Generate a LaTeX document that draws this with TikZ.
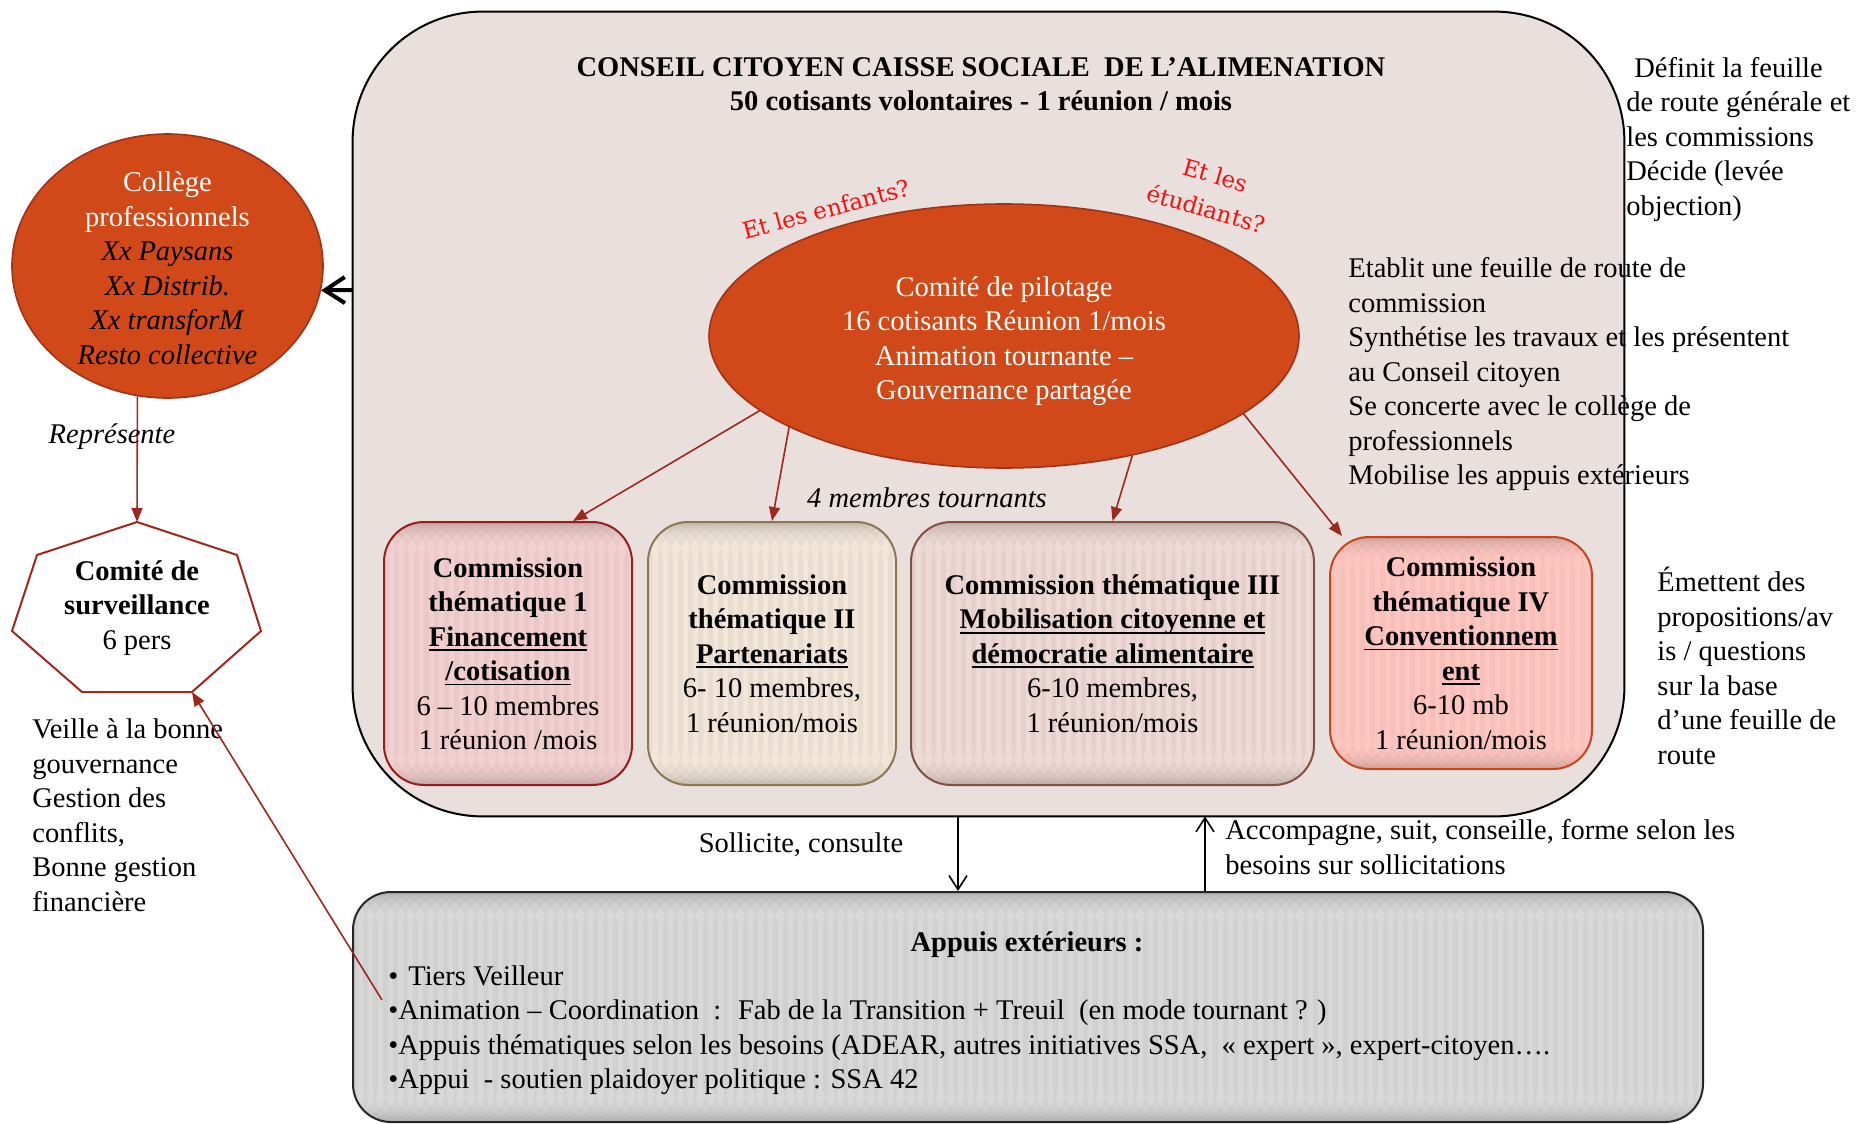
\documentclass[tikz,border=0pt]{standalone}
\usepackage{fontspec}
\setmainfont{Liberation Serif}
\newfontfamily\redfont{DejaVu Serif}
\usetikzlibrary{arrows.meta,shapes.geometric,calc}
\definecolor{boxfill}{RGB}{233,223,220}
\definecolor{orangered}{RGB}{209,73,24}
\definecolor{orangeedge}{RGB}{160,50,25}
\definecolor{darkred}{RGB}{158,40,30}
\definecolor{cone}{RGB}{243,208,208}
\definecolor{coneedge}{RGB}{150,30,28}
\definecolor{ctwo}{RGB}{241,230,216}
\definecolor{ctwoedge}{RGB}{140,118,85}
\definecolor{cthree}{RGB}{238,217,212}
\definecolor{cthreeedge}{RGB}{130,80,65}
\definecolor{cfour}{RGB}{255,198,192}
\definecolor{cfouredge}{RGB}{200,70,30}
\definecolor{grayfill}{RGB}{216,216,216}
\definecolor{redtext}{RGB}{245,15,15}
\newcommand\myul[1]{\setbox0\hbox{\bfseries #1}\rlap{\rule[-2.4pt]{\wd0}{0.8pt}}\box0}
\begin{document}
\begin{tikzpicture}[x=0.5pt,y=-0.5pt,
  txt/.style={font=\fontsize{14.25pt}{17.25pt}\selectfont, inner sep=0pt},
  txtb/.style={font=\fontsize{14.25pt}{17.25pt}\selectfont\bfseries, inner sep=0pt},
  txti/.style={font=\fontsize{14.25pt}{17.25pt}\selectfont\itshape, inner sep=0pt},
  stripes/.style={path picture={\foreach \k in {0,2,...,280}{\fill[black,opacity=0.035] ([xshift=\k*2.5pt]path picture bounding box.south west) rectangle ([xshift=\k*2.5pt+2.5pt]path picture bounding box.north west);}}},
  comm/.style={draw, line width=1pt, rounded corners=20pt, inner sep=0pt, align=center, txt, stripes},
  redarrow/.style={draw=darkred, line width=0.8pt, -{Triangle[length=7pt,width=5.5pt]}},
  thinarrow/.style={draw=black, line width=0.8pt, -{Straight Barb[length=7pt,width=9pt]}},
  redq/.style={font=\redfont\fontsize{11.5pt}{17.5pt}\selectfont, text=redtext, inner sep=0pt, align=center}
]
\useasboundingbox (0,0) rectangle (1859,1124);

% big box (fill)
\node[fill=boxfill, rounded corners=65pt, minimum width=635.5pt, minimum height=402pt, inner sep=0pt] (conseil) at (988.5,414) {};

\node[txtb, align=center] (title) at (981,84) {CONSEIL CITOYEN CAISSE SOCIALE~ DE L’ALIMENATION\\50 cotisants volontaires - 1 réunion / mois};

% right-side texts
\node[txt, align=left, anchor=west] (defin) at (1626,139) {\hspace*{4pt}Définit la feuille\\de route générale et\\les commissions\\Décide (levée\\objection)};
\node[txt, align=left, anchor=west] (etablit) at (1348,374) {Etablit une feuille de route de\\commission\\Synthétise les travaux et les présentent\\au Conseil citoyen\\Se concerte avec le collège de\\professionnels\\Mobilise les appuis extérieurs};
\node[txt, align=left, anchor=west] (emettent) at (1657,666) {Émettent des\\propositions/av\\is / questions\\sur la base\\d’une feuille de\\route};

% big box border on top of texts
\draw[line width=1pt, rounded corners=65pt] (conseil.north west) rectangle (conseil.south east);

% comite de pilotage
\node[ellipse, draw=orangeedge, fill=orangered, line width=0.8pt, minimum width=295pt, minimum height=132pt, inner sep=0pt] (pil) at (1004,336) {};
\node[txt, align=center, text=white] (piltxt) at (1004,341) {Comité de pilotage\\16 cotisants Réunion 1/mois\\Animation tournante –\\Gouvernance partagée};

\node[redq, rotate=15] (enfants) at (826,209) {Et les enfants?};
\node[redq, rotate=-16] (etudiants) at (1211,192) {Et les\\étudiants?};

% commissions
\node[comm, draw=coneedge, fill=cone, minimum width=124pt, minimum height=131.5pt] (c1) at (508,653.5) {\textbf{Commission}\\\textbf{thématique 1}\\\myul{Financement}\\\myul{/cotisation}\\6 – 10 membres\\1 réunion /mois};
\node[comm, draw=ctwoedge, fill=ctwo, minimum width=124pt, minimum height=131.5pt] (c2) at (772,653.5) {\textbf{Commission}\\\textbf{thématique II}\\\myul{Partenariats}\\6- 10 membres,\\1 réunion/mois};
\node[comm, draw=cthreeedge, fill=cthree, minimum width=201.5pt, minimum height=131.5pt] (c3) at (1112.5,653.5) {\textbf{Commission thématique III}\\\myul{Mobilisation citoyenne et}\\\myul{démocratie alimentaire}\\6-10 membres,\\1 réunion/mois};
\node[comm, draw=cfouredge, fill=cfour, rounded corners=19.5pt, minimum width=131pt, minimum height=116pt] (c4) at (1461,653) {\textbf{Commission}\\\textbf{thématique IV}\\\myul{Conventionnem}\\\myul{ent}\\6-10 mb\\1 réunion/mois};

\node[txti] (tournants) at (927,498) {4 membres tournants};

\draw[redarrow] (pil.197) -- ([xshift=32.5pt]c1.north);
\draw[redarrow] (pil.203) -- (c2.north);
\draw[redarrow] (pil.317) -- (c3.north);
\draw[redarrow] (pil.342) -- ([xshift=6.5pt]c4.north west);

% college
\node[ellipse, draw=orangeedge, fill=orangered, line width=0.8pt, minimum width=155.5pt, minimum height=132pt, inner sep=0pt] (college) at (167.5,266) {};
\node[txt, align=center] (collegetxt) at (167.5,268) {\textcolor{white}{Collège}\\\textcolor{white}{professionnels}\\\textit{Xx Paysans}\\\textit{Xx Distrib.}\\\textit{Xx transforM}\\\textit{Resto collective}};

\draw[line width=2pt, -{Straight Barb[length=10pt,width=13pt]}] ([yshift=62pt]conseil.west) -- (college.-9);

% heptagon
\coordinate (htop) at (137,522);
\coordinate (hur) at (237,555);
\coordinate (hr) at (261,631);
\coordinate (hbr) at (192,692);
\coordinate (hbl) at (82,692);
\coordinate (hl) at (12,631);
\coordinate (hul) at (37,555);
\draw[draw=darkred, line width=1pt, fill=white] (htop) -- (hur) -- (hr) -- (hbr) -- (hbl) -- (hl) -- (hul) -- cycle;
\node[txt, align=center] (comite) at (137,608) {\textbf{Comité de}\\\textbf{surveillance}\\6 pers};

\draw[redarrow] (college.257) -- (htop);
\node[txti] (represente) at (112,437) {Représente};

\node[txt, align=left, anchor=west] (veille) at (32,815) {Veille à la bonne\\gouvernance\\Gestion des\\conflits,\\Bonne gestion\\financière};

% appuis exterieurs
\node[draw=black!85, line width=1pt, fill=grayfill, rounded corners=19pt, minimum width=675pt, minimum height=115pt, inner sep=0pt, stripes] (appuis) at (1028,1007) {};
\node[txtb] (appuistitle) at (1027,945) {Appuis extérieurs :};
\node[txt, align=left, anchor=west] (appuislist) at (388,1030) {•\hspace{5pt}Tiers Veilleur\\•Animation – Coordination~ :~ Fab de la Transition + Treuil~ (en mode tournant ? )\\•Appuis thématiques selon les besoins (ADEAR, autres initiatives SSA,~ «~expert~», expert-citoyen….\\•Appui~ - soutien plaidoyer politique : SSA 42};

\coordinate (tiersend) at (382,1000);
\draw[redarrow] (tiersend) -- (hbr);

% links between conseil and appuis
\coordinate (sol1) at ($(conseil.south)+(-30.5,0)$);
\coordinate (sol2) at (sol1 |- appuis.north);
\draw[thinarrow] (sol1) -- (sol2);
\coordinate (acc1) at ($(appuis.north)+(177,0)$);
\coordinate (acc2) at (acc1 |- conseil.south);
\draw[thinarrow] (acc1) -- (acc2);

\node[txt] (sollicite) at (801,845) {Sollicite, consulte};
\node[txt, align=left, anchor=west] (accomp) at (1225,847) {Accompagne, suit, conseille, forme selon les\\besoins sur sollicitations};
\end{tikzpicture}
\end{document}
